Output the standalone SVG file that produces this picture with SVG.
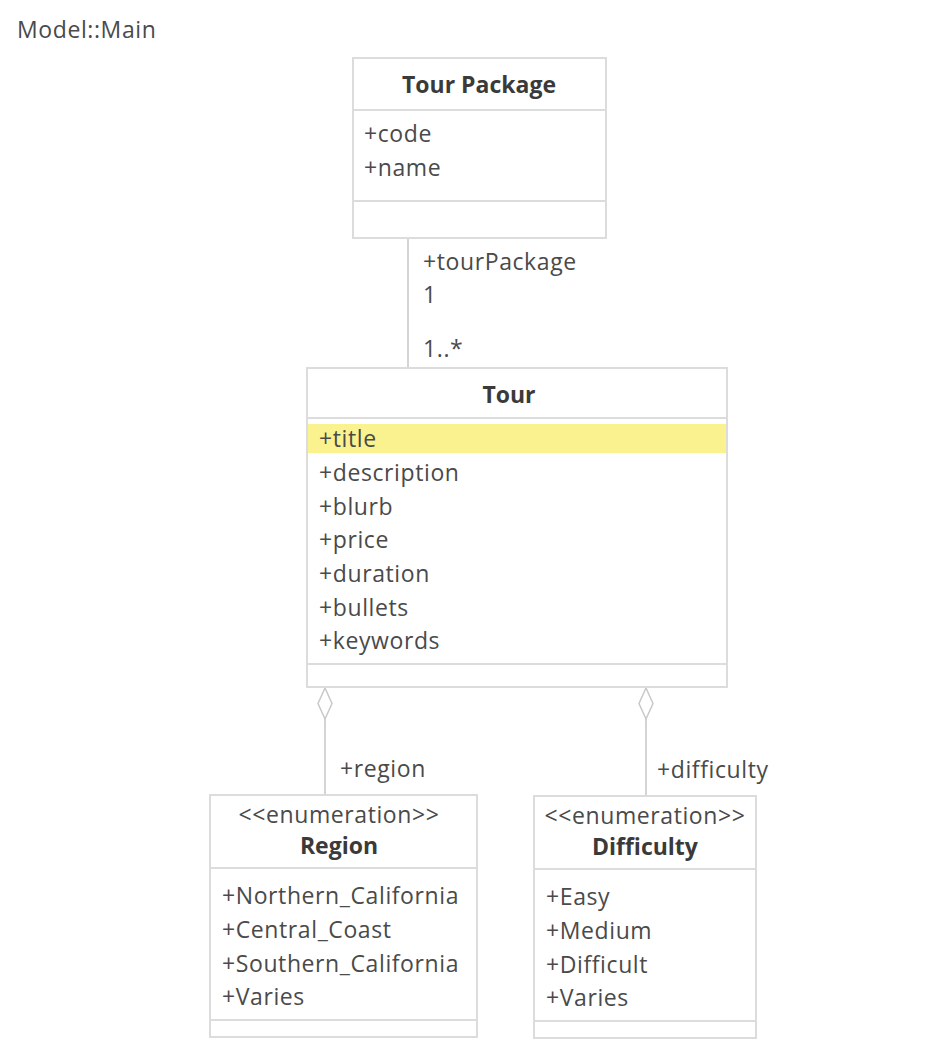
<svg xmlns="http://www.w3.org/2000/svg" width="934" height="1054" viewBox="0 0 934 1054">
<style>
text{font-family:"Open Sans","Noto Sans","Liberation Sans",sans-serif;font-size:23px;letter-spacing:0.6px;fill:#4a4a4a}
.b{font-weight:bold;text-anchor:middle;fill:#3a3a3a;letter-spacing:0}
.c{text-anchor:middle}
.box{fill:#fff;stroke:#dcdcdc;stroke-width:2}
.div{stroke:#dcdcdc;stroke-width:2}
.ln{stroke:#d4d4d4;stroke-width:2;fill:none}
.dia{fill:#fff;stroke:#c8c8c8;stroke-width:1.5}
</style>
<rect width="934" height="1054" fill="#fff"/>
<text x="17" y="38">Model::Main</text>
<g id="connectors">
<line class="ln" x1="408" y1="238" x2="408" y2="368"/>
<line class="ln" x1="325" y1="719" x2="325" y2="795"/>
<line class="ln" x1="646" y1="719" x2="646" y2="796"/>
<path class="dia" d="M325 688 L332 703.5 L325 719 L318 703.5 Z"/>
<path class="dia" d="M646 688 L653 703.5 L646 719 L639 703.5 Z"/>
<text x="423" y="270">+tourPackage</text>
<text x="423" y="303">1</text>
<text x="423" y="357">1..*</text>
<text x="340" y="777">+region</text>
<text x="657" y="778">+difficulty</text>
</g>
<g id="tourpackage">
<rect class="box" x="353" y="58" width="253" height="180"/>
<line class="div" x1="353" y1="110" x2="606" y2="110"/>
<line class="div" x1="353" y1="201" x2="606" y2="201"/>
<text class="b" x="479" y="93">Tour Package</text>
<text x="364" y="142">+code</text>
<text x="364" y="176">+name</text>
</g>
<g id="tour">
<rect class="box" x="307" y="368" width="420" height="319"/>
<line class="div" x1="307" y1="418" x2="727" y2="418"/>
<rect x="308" y="424" width="418" height="29" fill="#f9f28f"/>
<line class="div" x1="307" y1="664" x2="727" y2="664"/>
<text class="b" x="509" y="403">Tour</text>
<text x="319" y="447">+title</text>
<text x="319" y="481">+description</text>
<text x="319" y="515">+blurb</text>
<text x="319" y="548">+price</text>
<text x="319" y="582">+duration</text>
<text x="319" y="616">+bullets</text>
<text x="319" y="649">+keywords</text>
</g>
<g id="region">
<rect class="box" x="210" y="795" width="267" height="242"/>
<line class="div" x1="210" y1="868" x2="477" y2="868"/>
<line class="div" x1="210" y1="1020" x2="477" y2="1020"/>
<text class="c" x="339" y="823">&lt;&lt;enumeration&gt;&gt;</text>
<text class="b" x="339" y="854">Region</text>
<text x="222" y="904">+Northern_California</text>
<text x="222" y="938">+Central_Coast</text>
<text x="222" y="972">+Southern_California</text>
<text x="222" y="1005">+Varies</text>
</g>
<g id="difficulty">
<rect class="box" x="534" y="796" width="222" height="242"/>
<line class="div" x1="534" y1="869" x2="756" y2="869"/>
<line class="div" x1="534" y1="1021" x2="756" y2="1021"/>
<text class="c" x="645" y="824">&lt;&lt;enumeration&gt;&gt;</text>
<text class="b" x="645" y="855">Difficulty</text>
<text x="546" y="905">+Easy</text>
<text x="546" y="939">+Medium</text>
<text x="546" y="973">+Difficult</text>
<text x="546" y="1006">+Varies</text>
</g>
</svg>
